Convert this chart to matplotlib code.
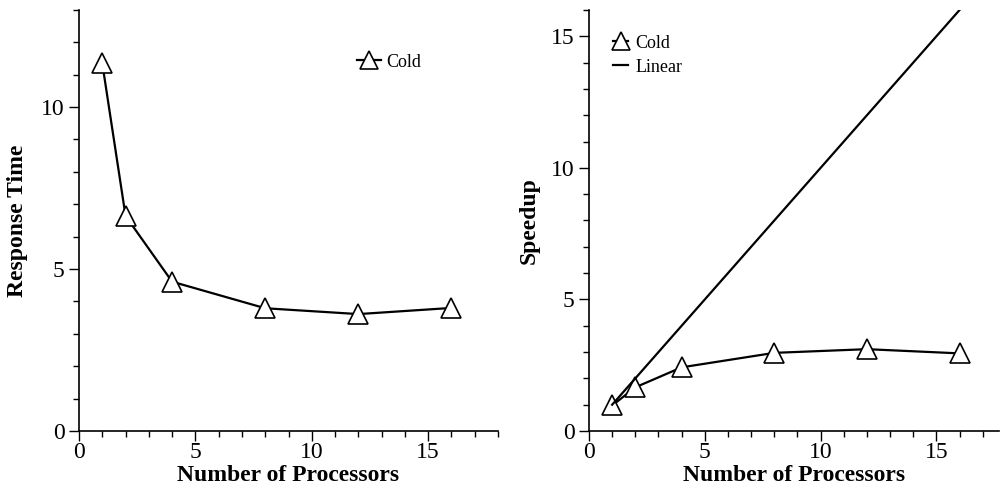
import numpy as np
import matplotlib.pyplot as plt
from matplotlib.ticker import MultipleLocator

plt.rcParams['font.family'] = ['Liberation Serif', 'DejaVu Serif']

# data
procs = [1, 2, 4, 8, 12, 16]
resp_cold = [11.35, 6.64, 4.61, 3.79, 3.61, 3.80]
speedup_cold = [0.97, 1.66, 2.42, 2.97, 3.11, 2.95]
linear_x = [1, 16]
linear_y = [1, 16]

fig = plt.figure(figsize=(10, 4.96), dpi=100)
ax1 = fig.add_axes([0.079, 0.131, 0.419, 0.849])
ax2 = fig.add_axes([0.589, 0.131, 0.410, 0.849])

mk = dict(marker='^', markersize=14, markerfacecolor='white',
          markeredgecolor='black', markeredgewidth=1.2, color='black', lw=1.6)

ax1.plot(procs, resp_cold, label='Cold', **mk)
ax1.set_xlim(0, 18)
ax1.set_ylim(0, 13)
ax1.set_ylabel('Response Time', fontsize=17, fontweight='bold', labelpad=9)
ax1.legend(loc='upper left', bbox_to_anchor=(0.625, 0.935), frameon=False,
           fontsize=13, handlelength=1.3, handletextpad=0.3, markerscale=0.9)

ax2.plot(procs, speedup_cold, label='Cold', **mk)
ax2.plot(linear_x, linear_y, color='black', lw=1.6, label='Linear')
ax2.set_xlim(0, 17.7)
ax2.set_ylim(0, 16)
ax2.set_ylabel('Speedup', fontsize=17, fontweight='bold', labelpad=8)
ax2.legend(loc='upper left', bbox_to_anchor=(0.02, 0.98), frameon=False,
           fontsize=13, handlelength=0.8, handletextpad=0.4, markerscale=0.9,
           labelspacing=0.4)

for ax in (ax1, ax2):
    ax.set_xlabel('Number of Processors', fontsize=17, fontweight='bold',
                  labelpad=1)
    ax.spines['top'].set_visible(False)
    ax.spines['right'].set_visible(False)
    ax.xaxis.set_major_locator(MultipleLocator(5))
    ax.xaxis.set_minor_locator(MultipleLocator(1))
    ax.yaxis.set_major_locator(MultipleLocator(5))
    ax.yaxis.set_minor_locator(MultipleLocator(1))
    ax.tick_params(which='major', length=7, width=1, labelsize=17)
    ax.tick_params(axis='x', which='major', pad=1)
    ax.tick_params(which='minor', length=4, width=1)
    for s in ax.spines.values():
        s.set_linewidth(1.2)

fig.savefig('out.png', dpi=100)
